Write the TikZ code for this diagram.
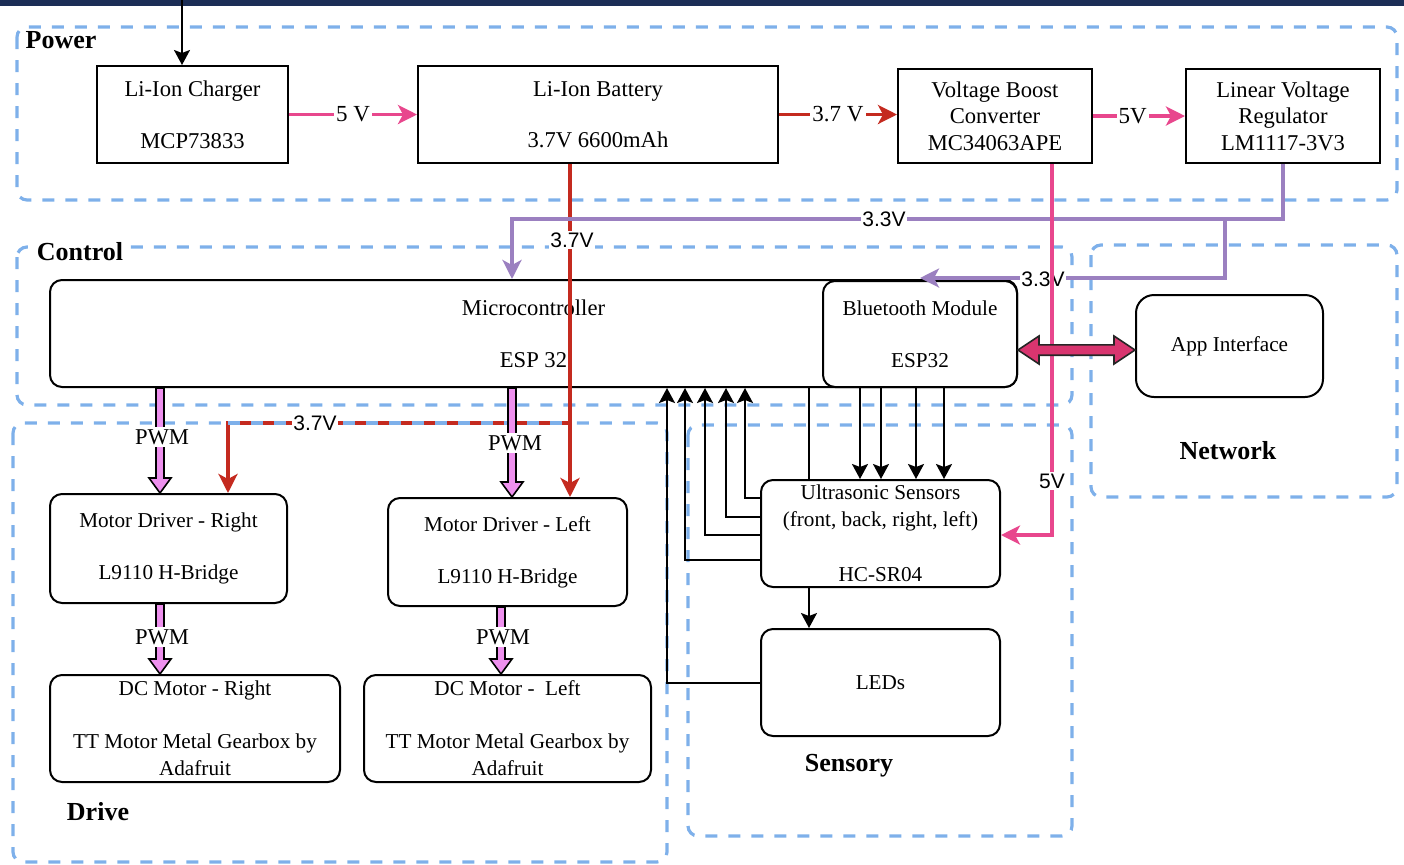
\documentclass[tikz,border=0pt]{standalone}
\usepackage{fontspec}
\setmainfont{Liberation Serif}
\setsansfont{Liberation Sans}
\usetikzlibrary{arrows.meta,calc}
\definecolor{grpblue}{HTML}{7EB0EA}
\definecolor{pinkc}{HTML}{E8478D}
\definecolor{redc}{HTML}{C42A1F}
\definecolor{purc}{HTML}{9B80C0}
\definecolor{pwmc}{HTML}{EE90EE}
\definecolor{magc}{HTML}{D8356F}
\definecolor{navyc}{HTML}{1C2E56}
\begin{document}
\begin{tikzpicture}[x=0.5pt,y=-0.5pt,
  grp/.style={draw=grpblue, line width=1.6pt, dash pattern=on 6pt off 5.5pt, rounded corners=5pt},
  sq/.style={draw=black, line width=1pt, fill=white, align=center, inner sep=0pt, font=\fontsize{11.3}{13.3}\selectfont},
  rnd/.style={sq, rounded corners=6pt, font=\fontsize{10.6}{13.5}\selectfont},
  glab/.style={inner sep=1pt, font=\fontsize{13}{15}\selectfont\bfseries},
  vlab/.style={fill=white, text=black, inner sep=1pt, font=\fontsize{11.5}{13}\selectfont},
  slab/.style={fill=white, text=black, inner sep=0.8pt, font=\sffamily\fontsize{10.5}{12}\selectfont},
  pwmlab/.style={fill=white, text=black, inner sep=1pt, font=\fontsize{11.3}{13}\selectfont},
  blk/.style={draw=black, line width=1pt, -{Stealth[length=7.5pt,width=8pt,inset=1.5pt]}},
  blkl/.style={draw=black, line width=1pt},
  col/.style={line width=1.8pt, -{Stealth[length=9.5pt,width=9.5pt,inset=2.5pt]}},
  pwm/.style={draw=black, line width=0.8pt, fill=pwmc,
    to path={let \p1=(\tikztostart), \p2=(\tikztotarget) in
      (\x1-2pt,\y1) -- (\x1-2pt,\y2+7.5pt) -- (\x1-5.5pt,\y2+7.5pt) -- (\x1,\y2)
      -- (\x1+5.5pt,\y2+7.5pt) -- (\x1+2pt,\y2+7.5pt) -- (\x1+2pt,\y1) -- cycle}},
  dbl/.style={draw=black!85, line width=0.8pt, fill=magc,
    to path={let \p1=(\tikztostart), \p2=(\tikztotarget) in
      (\x1,\y1) -- (\x1+10.5pt,\y1+7pt) -- (\x1+10.5pt,\y1+2.6pt) -- (\x2-10.5pt,\y1+2.6pt)
      -- (\x2-10.5pt,\y1+7pt) -- (\x2,\y1) -- (\x2-10.5pt,\y1-7pt) -- (\x2-10.5pt,\y1-2.6pt)
      -- (\x1+10.5pt,\y1-2.6pt) -- (\x1+10.5pt,\y1-7pt) -- cycle}}
]
\useasboundingbox (0,0) rectangle (1404,864);
\fill[navyc] (0,0) rectangle (1404,6);

% groups
\draw[grp] (17,27) rectangle (1397,200);
\draw[grp] (17,247) rectangle (1072,405);
\draw[grp] (1091,245) rectangle (1397,497);
\draw[grp] (13,423) rectangle (667,862);
\draw[grp] (688,425) rectangle (1072,836);

% nodes
\node[sq, minimum width=95.5pt, minimum height=48.5pt] (charger) at (192.5,114.5) {Li-Ion Charger\\[12.5pt]MCP73833};
\node[sq, minimum width=180pt, minimum height=48.5pt] (battery) at (598,114.5) {Li-Ion Battery\\[12.5pt]3.7V 6600mAh};
\node[sq, minimum width=97pt, minimum height=47pt] (boost) at (995,116) {Voltage Boost\\Converter\\MC34063APE};
\node[sq, minimum width=97pt, minimum height=47pt] (reg) at (1283,116) {Linear Voltage\\Regulator\\LM1117-3V3};
\node[rnd, font=\fontsize{11.3}{13.3}\selectfont, minimum width=483.5pt, minimum height=53.5pt] (micro) at (533.5,333.5) {Microcontroller\\[12.5pt]ESP 32};
\node[rnd, minimum width=97pt, minimum height=53pt] (bt) at (920,334) {Bluetooth Module\\[12.5pt]ESP32};
\node[rnd, rounded corners=9pt, minimum width=93.5pt, minimum height=51pt] (app) at (1229.5,346) {App Interface};
\node[rnd, minimum width=118.5pt, minimum height=54.5pt] (mdr) at (168.5,548.5) {Motor Driver - Right\\[12.5pt]L9110 H-Bridge};
\node[rnd, minimum width=119.5pt, minimum height=54pt] (mdl) at (507.5,552) {Motor Driver - Left\\[12.5pt]L9110 H-Bridge};
\node[rnd, minimum width=145pt, minimum height=53.5pt] (dcr) at (195,728.5) {DC Motor - Right\\[13pt]TT Motor Metal Gearbox by\\Adafruit};
\node[rnd, minimum width=143.5pt, minimum height=53.5pt] (dcl) at (507.5,728.5) {DC Motor - \ Left\\[13pt]TT Motor Metal Gearbox by\\Adafruit};
\node[rnd, minimum width=119.5pt, minimum height=53.5pt] (us) at (880.5,533.5) {Ultrasonic Sensors\\(front, back, right, left)\\[14pt]HC-SR04};
\node[rnd, minimum width=119.5pt, minimum height=53.5pt] (leds) at (880.5,682.5) {LEDs};

% group labels
\node[glab] (lpower) at (61,40) {Power};
\node[glab, fill=white] (lcontrol) at (80,252) {Control};
\node[glab] (lnet) at (1228,451) {Network};
\node[glab] (lsens) at (849,766) {Sensory};
\node[glab] (ldrive) at (98,812) {Drive};

% helper coordinates
\coordinate (topin) at (182,0);
\coordinate (cxr) at (570,0);
\coordinate (cxrb) at (228,0);
\coordinate (cyr) at (0,423);
\coordinate (cxp) at (512,0);
\coordinate (cyp) at (0,219);
\coordinate (cxpb) at (1225,0);
\coordinate (cypb) at (0,278);
\coordinate (cxpk) at (1052,0);
\coordinate (cypk) at (0,535);
\coordinate (cyd) at (0,350);
\coordinate (cx160) at (160,0);
\coordinate (cx512) at (512,0);
\coordinate (cx501) at (501,0);
\coordinate (k0) at (809,0);
\coordinate (k1) at (860,0);
\coordinate (k2) at (881,0);
\coordinate (k3) at (916,0);
\coordinate (k4) at (944,0);
\coordinate (f1) at (745,498);
\coordinate (f2) at (726,517);
\coordinate (f3) at (705,535);
\coordinate (f4) at (685,560);
\coordinate (f5) at (667,0);

% power chain
\draw[blk] (topin) -- (charger.north -| topin);
\draw[col, pinkc] (charger.east) -- (battery.west) node[vlab, midway] (l5a) {5 V};
\draw[col, redc] (battery.east) -- (boost.west |- battery.east) node[vlab, midway] (l37a) {3.7 V};
\draw[col, pinkc] (boost.east) -- (reg.west) node[vlab, pos=0.43] (l5b) {5V};

% 3.7V red
\draw[col, redc] (battery.south -| cxr) -- (mdl.north -| cxr);
\draw[col, redc] (cxr |- cyr) -- (cxrb |- cyr) -- (mdr.north -| cxrb);
\draw[grp, rounded corners=0pt] (cxrb |- cyr) -- (cxr |- cyr);
\node[slab] (l37b) at (572,240) {3.7V};
\node[slab] (l37c) at (315,423) {3.7V};

% 3.3V purple
\draw[col, purc] (reg.south) -- (reg.south |- cyp) -- (cxp |- cyp) -- (micro.north -| cxp);
\draw[col, purc] (cxpb |- cyp) -- (cxpb |- cypb) -- (bt.north |- cypb);
\node[slab] (l33a) at (884,219) {3.3V};
\node[slab] (l33b) at (1043,279) {3.3V};

% 5V pink to sensors
\draw[col, pinkc] (boost.south -| cxpk) -- (cxpk |- cypk) -- (us.east |- cypk);
\node[slab] (l5c) at (1052,481) {5V};

% bluetooth <-> app
\draw[dbl] (bt.east |- cyd) to (app.west |- cyd);

% PWM
\draw[pwm] (micro.south -| cx160) to (mdr.north -| cx160);
\draw[pwm] (micro.south -| cx512) to (mdl.north -| cx512);
\draw[pwm] (mdr.south -| cx160) to (dcr.north -| cx160);
\draw[pwm] (mdl.south -| cx501) to (dcl.north -| cx501);
\node[pwmlab] (pw1) at (162,437) {PWM};
\node[pwmlab] (pw2) at (515,443) {PWM};
\node[pwmlab] (pw3) at (162,637) {PWM};
\node[pwmlab] (pw4) at (503,637) {PWM};

% sensor signals
\draw[blkl] (micro.south -| k0) -- (us.north -| k0);
\draw[blk] (bt.south -| k1) -- (us.north -| k1);
\draw[blk] (bt.south -| k2) -- (us.north -| k2);
\draw[blk] (bt.south -| k3) -- (us.north -| k3);
\draw[blk] (bt.south -| k4) -- (us.north -| k4);
\draw[blk] (us.south -| k0) -- (leds.north -| k0);
\draw[blk] (us.west |- f1) -- (f1) -- (micro.south -| f1);
\draw[blk] (us.west |- f2) -- (f2) -- (micro.south -| f2);
\draw[blk] (us.west |- f3) -- (f3) -- (micro.south -| f3);
\draw[blk] (us.west |- f4) -- (f4) -- (micro.south -| f4);
\draw[blk] (leds.west) -- (leds.west -| f5) -- (micro.south -| f5);
\end{tikzpicture}
\end{document}
